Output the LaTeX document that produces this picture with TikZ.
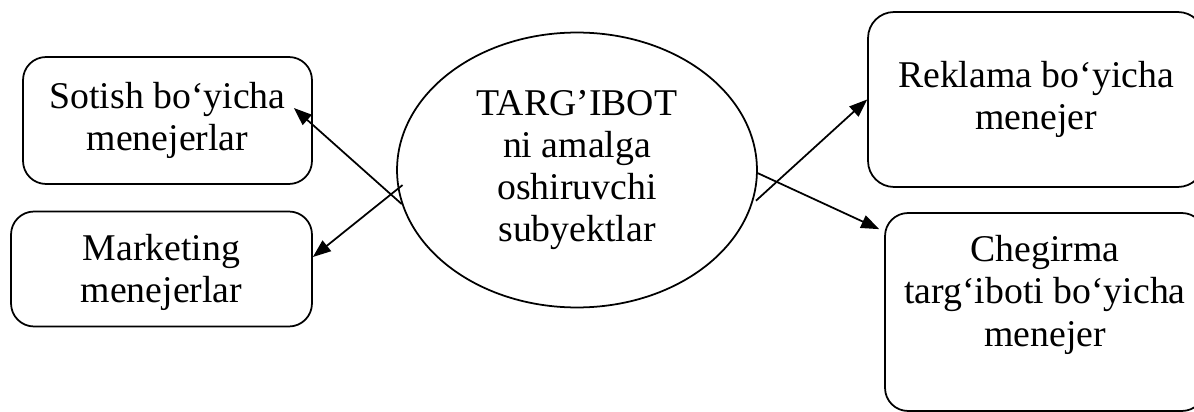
\documentclass[tikz,border=0pt]{standalone}
\usepackage{fontspec}
\setmainfont{Liberation Serif}
\usetikzlibrary{shapes.geometric, arrows.meta, positioning}
\tikzset{
	roundbox/.style={draw, line width=1pt, rounded corners=0.46cm, align=center, inner sep=0pt}
}
\tikzset{
	tiparrow/.style={-{Triangle[length=0.36cm, width=0.27cm]}, line width=1pt}
}
\newcommand{\bigtext}{\fontsize{21.5}{24}\selectfont}

\begin{document}
\begin{tikzpicture}[x=0.02cm, y=-0.02cm, font=\bigtext]
      \useasboundingbox (0,0) rectangle (1194,412);
      \clip (0,0) rectangle (1194,412);
      \node[ellipse, draw, line width=1pt, minimum width=7.2cm, minimum height=5.5cm, align=center, inner sep=0pt] (c) at (577,170) {TARG’IBOT\\ni amalga\\oshiruvchi\\subyektlar};
      \node[roundbox, minimum width=5.78cm, minimum height=2.54cm] (sotish) at (167.5,120.5) {Sotish bo‘yicha\\menejerlar};
      \node[roundbox, minimum width=6.02cm, minimum height=2.3cm, text height=1.51cm] (marketing) at (161.5,269) {Marketing\\menejerlar};
      \node[roundbox, rounded corners=0.52cm, minimum width=6.72cm, minimum height=3.5cm] (reklama) at (1036,99.5) {Reklama bo‘yicha\\menejer};
      \node[roundbox, minimum width=6.4cm, minimum height=3.96cm, text depth=0.85cm] (chegirma) at (1045,312) {Chegirma\\targ‘iboti bo‘yicha\\menejer};
      \draw[tiparrow] (c.191) -- ([shift={(-19,-12.5)}]sotish.east);
      \draw[tiparrow, shorten <=-0.12cm] (c.186) -- ([shift={(0,-12)}]marketing.east);
      \draw[tiparrow, shorten <=0.1cm] (c.-11) -- (reklama.west);
      \draw[tiparrow] (c.-1) -- ([shift={(-5,17)}]chegirma.north west);
\end{tikzpicture}
\end{document}
